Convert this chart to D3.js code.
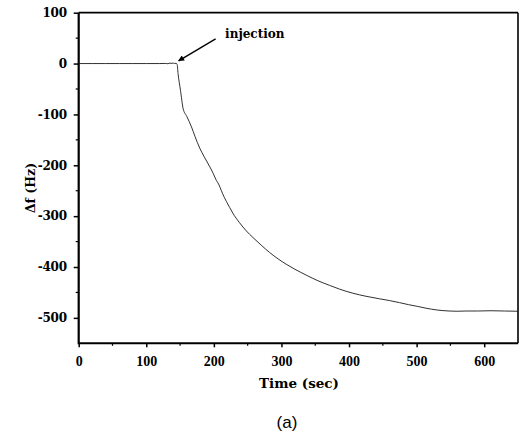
<!DOCTYPE html>
<html>
<head>
<meta charset="utf-8">
<script src="https://cdn.jsdelivr.net/npm/d3@7"></script>
<style>
  html, body { margin: 0; padding: 0; background: #fff; }
  svg { display: block; }
</style>
</head>
<body>
<script>
// ---- data ----
const timeSec = [0, 20, 40, 60, 80, 100, 120, 128, 132, 135, 138, 140, 142, 144, 145.6, 147, 150.6, 154.5, 160, 166.9, 172, 179, 186, 194, 199, 203.8, 207, 209, 213, 218.5, 223.4, 228, 238, 248, 257.8, 270, 282.5, 295, 307, 320, 336.7, 354, 371, 386, 405.6, 425, 445, 460, 474.6, 488, 501.6, 514, 530, 548, 560, 573, 590, 610, 630, 650];
const deltaF = [0, 0, 0, 0, 0, 0, 0, 0.3, -0.3, 0.8, 0.4, 1, 0, 0.6, -1.4, -19.7, -52.5, -88.5, -104, -124.6, -143, -166, -184, -203, -216, -230, -237, -243, -256, -271, -283, -294, -313, -329, -342, -357, -371.5, -384, -394.5, -404.5, -416, -427, -436, -443.5, -451.5, -457.5, -462.5, -466, -470, -474, -477.5, -481, -484.5, -486.5, -487, -486.5, -486.5, -486, -486.5, -487];
const xTicks = [0, 100, 200, 300, 400, 500, 600];
const xMinor = [50, 150, 250, 350, 450, 550];
const yTicks = [100, 0, -100, -200, -300, -400, -500];
const yMinor = [50, -50, -150, -250, -350, -450];
const xDomain = [0, 650];
const yDomain = [-550, 100];
const annotation = { text: "injection", t: 145.6, v: -1.4 };

const W = 519, H = 434;
const L = 78.7, R = 518, T = 12.7, B = 343.3;

const svg = d3.select("body").append("svg").attr("width", W).attr("height", H);

const x = d3.scaleLinear().domain(xDomain).range([L, R]);
const y = d3.scaleLinear().domain(yDomain).range([B, T]);
const fmt = d => String(d);

// frame top/right
svg.append("line").attr("x1", L).attr("x2", R).attr("y1", T).attr("y2", T)
  .attr("stroke", "#000").attr("stroke-width", 1.8);
svg.append("line").attr("x1", R).attr("x2", R).attr("y1", T).attr("y2", B)
  .attr("stroke", "#000").attr("stroke-width", 1.6);

// x axis
const gx = svg.append("g").attr("transform", `translate(0,${B})`)
  .call(d3.axisBottom(x).tickValues(xTicks).tickSize(4).tickPadding(9).tickFormat(fmt));
gx.select(".domain").attr("stroke-width", 2).attr("d", `M${L},0H${R}`);
gx.selectAll(".tick line").attr("stroke-width", 1.5);
gx.selectAll(".tick text").attr("font-family", "Liberation Serif").attr("font-weight", "bold")
  .attr("font-size", 14).attr("fill", "#000");
gx.selectAll(".minor").data(xMinor).enter().append("line")
  .attr("x1", d => x(d)).attr("x2", d => x(d)).attr("y1", 0).attr("y2", 2.5)
  .attr("stroke", "#000").attr("stroke-width", 1.2);

// y axis
const gy = svg.append("g").attr("transform", `translate(${L},0)`)
  .call(d3.axisLeft(y).tickValues(yTicks).tickSize(5).tickPadding(7).tickFormat(fmt));
gy.select(".domain").attr("stroke-width", 2.2).attr("d", `M0,${T}V${B + 1}`);
gy.selectAll(".tick line").attr("stroke-width", 1.5);
gy.selectAll(".tick text").attr("font-family", "DejaVu Serif").attr("font-weight", "bold")
  .attr("font-size", 12).attr("fill", "#000").attr("letter-spacing", "-0.3px");
gy.selectAll(".minor").data(yMinor).enter().append("line")
  .attr("x1", -3).attr("x2", 0).attr("y1", d => y(d)).attr("y2", d => y(d))
  .attr("stroke", "#000").attr("stroke-width", 1.2);

// data line
const pts = timeSec.map((t, i) => [t, deltaF[i]]);
svg.append("path").datum(pts)
  .attr("fill", "none").attr("stroke", "#1a1a1a").attr("stroke-width", 0.9)
  .attr("stroke-linejoin", "round")
  .attr("d", d3.line().curve(d3.curveMonotoneX).x(d => x(d[0])).y(d => y(d[1])));

// annotation
svg.append("defs").append("marker").attr("id", "ah")
  .attr("viewBox", "0 0 10 10").attr("refX", 9).attr("refY", 5)
  .attr("markerWidth", 7).attr("markerHeight", 6).attr("orient", "auto")
  .attr("markerUnits", "userSpaceOnUse")
  .append("path").attr("d", "M0,0L10,5L0,10Z").attr("fill", "#000");
const ax = x(annotation.t), ay = y(annotation.v);
svg.append("line").attr("x1", ax + 38.5).attr("y1", ay - 25.5).attr("x2", ax + 1.5).attr("y2", ay - 3.5)
  .attr("stroke", "#000").attr("stroke-width", 1.4).attr("marker-end", "url(#ah)");
svg.append("text").attr("x", ax + 48).attr("y", ay - 26)
  .attr("font-family", "DejaVu Serif").attr("font-weight", "bold").attr("font-size", 12)
  .attr("fill", "#000").text(annotation.text);

// axis titles
svg.append("text").attr("x", 299).attr("y", 388).attr("text-anchor", "middle")
  .attr("font-family", "DejaVu Serif").attr("font-weight", "bold").attr("font-size", 13.5)
  .attr("fill", "#000").text("Time (sec)");
svg.append("text").attr("transform", "translate(35,188) rotate(-90)").attr("text-anchor", "middle")
  .attr("font-family", "DejaVu Serif").attr("font-weight", "bold").attr("font-size", 12.5)
  .attr("fill", "#000").text("Δf (Hz)");
svg.append("text").attr("x", 287).attr("y", 428).attr("text-anchor", "middle")
  .attr("font-family", "Liberation Sans").attr("font-size", 17)
  .attr("fill", "#000").text("(a)");
</script>
</body>
</html>
